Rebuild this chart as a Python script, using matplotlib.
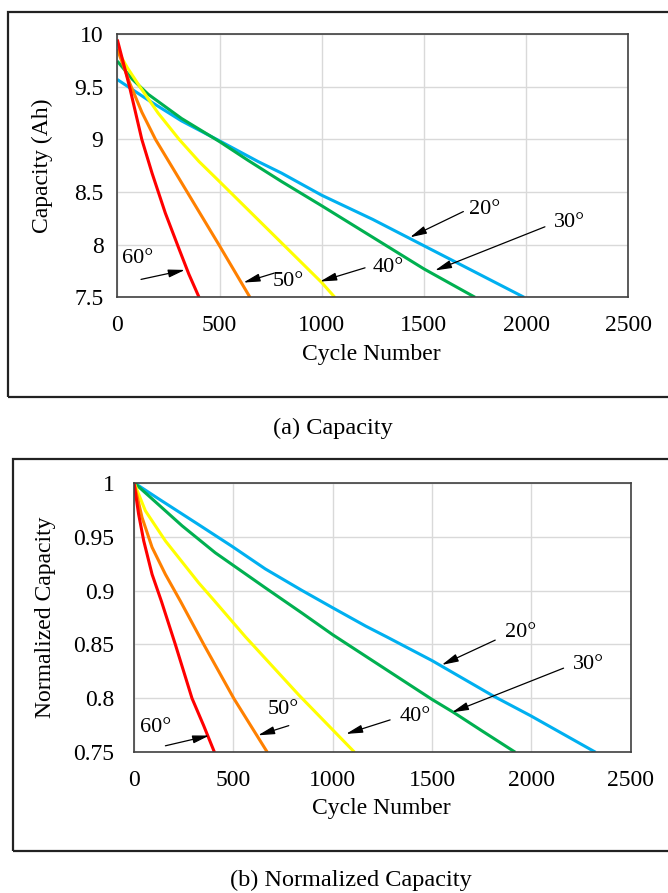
import matplotlib
matplotlib.use("Agg")
import matplotlib.pyplot as plt
from matplotlib.patches import Rectangle

plt.rcParams['font.family'] = ['Liberation Serif', 'DejaVu Serif']

# ---- (a) capacity (Ah) vs cycle number ----
cyc20_a = [0, 151, 314, 500, 689, 804, 1000, 1250, 1500, 1750, 1990]
cap20_a = [9.57, 9.375, 9.177, 8.987, 8.79, 8.68, 8.47, 8.24, 7.99, 7.74, 7.50]
cyc30_a = [0, 75, 151, 314, 500, 641, 804, 1000, 1250, 1500, 1750]
cap30_a = [9.745, 9.57, 9.43, 9.20, 8.98, 8.80, 8.60, 8.37, 8.07, 7.77, 7.50]
cyc40_a = [0, 50, 111, 200, 303, 400, 500, 750, 1000, 1064]
cap40_a = [9.85, 9.68, 9.50, 9.25, 9.00, 8.79, 8.60, 8.12, 7.64, 7.50]
cyc50_a = [0, 30, 62, 120, 187, 342, 500, 649]
cap50_a = [9.86, 9.70, 9.53, 9.26, 9.00, 8.50, 7.99, 7.50]
cyc60_a = [0, 60, 120, 170, 235, 300, 350, 400]
cap60_a = [9.95, 9.50, 9.00, 8.68, 8.30, 7.97, 7.72, 7.50]

# ---- (b) normalized capacity vs cycle number ----
cyc20_b = [0, 124, 326, 493, 661, 846, 1000, 1166, 1272, 1500, 1810, 1995, 2323]
cap20_b = [1.0, 0.985, 0.961, 0.941, 0.920, 0.900, 0.884, 0.867, 0.857, 0.835, 0.802, 0.784, 0.75]
cyc30_b = [0, 91, 242, 409, 661, 846, 1000, 1250, 1500, 1608, 1750, 1919]
cap30_b = [1.0, 0.985, 0.960, 0.935, 0.9025, 0.879, 0.859, 0.829, 0.799, 0.787, 0.77, 0.75]
cyc40_b = [0, 57, 158, 326, 402, 561, 830, 1110]
cap40_b = [1.0, 0.974, 0.946, 0.907, 0.891, 0.857, 0.803, 0.75]
cyc50_b = [0, 40, 91, 158, 234, 351, 502, 671]
cap50_b = [1.0, 0.968, 0.94, 0.915, 0.89, 0.85, 0.80, 0.75]
cyc60_b = [0, 23, 49, 91, 138, 208, 292, 350, 405]
cap60_b = [1.0, 0.971, 0.946, 0.915, 0.89, 0.85, 0.80, 0.775, 0.75]

colors = ['#00B0F0', '#00B050', '#FFFF00', '#FF8000', '#FF0000']

# label position, arrow tail, arrow tip (data coords)
notes_a = [
    ('20°', (1799, 8.33), (1693, 8.315), (1432, 8.07)),
    ('30°', (2211, 8.21), (2092, 8.17), (1554, 7.755)),
    ('40°', (1326, 7.78), (1212, 7.78), (992, 7.65)),
    ('50°', (837, 7.65), (768, 7.73), (617, 7.64)),
    ('60°', (100, 7.87), (116, 7.67), (331, 7.76)),
]
notes_b = [
    ('20°', (1944, 0.861), (1818, 0.854), (1549, 0.831)),
    ('30°', (2288, 0.831), (2162, 0.828), (1600, 0.787)),
    ('40°', (1415, 0.783), (1289, 0.780), (1067, 0.767)),
    ('50°', (749, 0.7895), (779, 0.7747), (624, 0.7657)),
    ('60°', (107, 0.7726), (158, 0.756), (379, 0.7655)),
]

fig = plt.figure(figsize=(6.68, 8.93), dpi=100)

# outer frames around each panel
fig.patches.append(Rectangle((0.0127, 0.5554), 1.0, 0.4312, transform=fig.transFigure,
                             fill=False, edgecolor='#222222', lw=1.6))
fig.patches.append(Rectangle((0.0192, 0.047), 1.0, 0.439, transform=fig.transFigure,
                             fill=False, edgecolor='#222222', lw=1.6))

ax1 = fig.add_axes([0.1756, 0.6671, 0.765, 0.2945])
ax2 = fig.add_axes([0.2006, 0.1576, 0.7436, 0.3019])


def style(ax, ylim, yticks, ylabels, ylab, xpad, ypad, ylab_x, xlab_y):
    ax.set_xlim(0, 2500)
    ax.set_ylim(*ylim)
    ax.set_xticks([0, 500, 1000, 1500, 2000, 2500])
    ax.set_xticklabels(['0', '500', '1000', '1500', '2000', '2500'])
    ax.set_yticks(yticks)
    ax.set_yticklabels(ylabels)
    ax.grid(True, color='#d9d9d9', lw=1.0)
    ax.set_axisbelow(True)
    ax.tick_params(axis='both', length=0, labelsize=17)
    ax.tick_params(axis='x', pad=xpad)
    ax.tick_params(axis='y', pad=ypad)
    for s in ax.spines.values():
        s.set_color('#404040')
        s.set_linewidth(1.2)
    ax.set_xlabel('Cycle Number', fontsize=17)
    ax.set_ylabel(ylab, fontsize=17)
    ax.xaxis.label.set_va('center')
    ax.yaxis.label.set_va('center')
    ax.xaxis.set_label_coords(0.498, xlab_y)
    ax.yaxis.set_label_coords(ylab_x, 0.5)


def notes(ax, items):
    for txt, lp, tail, tip in items:
        ax.text(lp[0], lp[1], txt, fontsize=16, ha='center', va='center')
        ax.annotate('', xy=tip, xytext=tail,
                    arrowprops=dict(arrowstyle='-|>,head_width=0.24,head_length=1.0',
                                    color='black', lw=0.9, shrinkA=0, shrinkB=0))


series_a = [(cyc20_a, cap20_a), (cyc30_a, cap30_a), (cyc40_a, cap40_a),
            (cyc50_a, cap50_a), (cyc60_a, cap60_a)]
series_b = [(cyc20_b, cap20_b), (cyc30_b, cap30_b), (cyc40_b, cap40_b),
            (cyc50_b, cap50_b), (cyc60_b, cap60_b)]

for (x, y), c in zip(series_a, colors):
    ax1.plot(x, y, color=c, lw=2.2, solid_capstyle='butt', solid_joinstyle='round')
for (x, y), c in zip(series_b, colors):
    ax2.plot(x, y, color=c, lw=2.2, solid_capstyle='butt', solid_joinstyle='round')

style(ax1, (7.5, 10), [7.5, 8, 8.5, 9, 9.5, 10], ['7.5', '8', '8.5', '9', '9.5', '10'],
      'Capacity (Ah)', 13, 10, -0.147, -0.219)
style(ax2, (0.75, 1.0), [0.75, 0.8, 0.85, 0.9, 0.95, 1.0],
      ['0.75', '0.8', '0.85', '0.9', '0.95', '1'],
      'Normalized Capacity', 13, 14, -0.179, -0.207)

notes(ax1, notes_a)
notes(ax2, notes_b)

fig.text(0.4985, 0.5207, '(a) Capacity', fontsize=17.5, ha='center', va='center')
fig.text(0.525, 0.0146, '(b) Normalized Capacity', fontsize=17.5, ha='center', va='center')

fig.savefig('out.png', dpi=100)
